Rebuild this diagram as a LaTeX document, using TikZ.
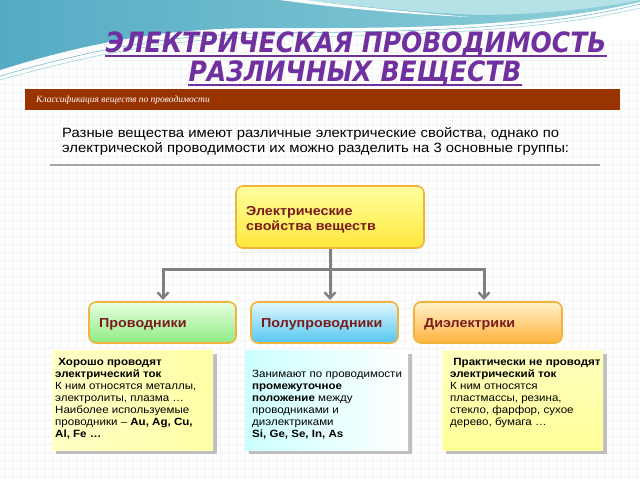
\documentclass[tikz,border=0pt]{standalone}
\usepackage{fontspec}
\setmainfont{Liberation Sans}[FakeStretch=1.1]
\newfontfamily\titlefont{DejaVu Sans}
\newfontfamily\barfont{Liberation Serif}
\usetikzlibrary{arrows.meta}
\definecolor{tealA}{HTML}{55ABC4}
\definecolor{tealB}{HTML}{8ED0DA}
\definecolor{tealC}{HTML}{B5E2E6}
\definecolor{titlec}{HTML}{7030A0}
\definecolor{barc}{HTML}{993300}
\definecolor{boxtxt}{HTML}{7A1B1B}
\definecolor{bord}{HTML}{F0B43C}
\definecolor{conn}{HTML}{808080}
\definecolor{gridc}{HTML}{E6E6E6}
\definecolor{ytop}{HTML}{FFFF9E}
\definecolor{ybot}{HTML}{FFE83C}
\definecolor{gtop}{HTML}{E8FFE0}
\definecolor{gbot}{HTML}{8EEA84}
\definecolor{btop}{HTML}{E2F8FF}
\definecolor{bbot}{HTML}{52C6F0}
\definecolor{otop}{HTML}{FFF2CC}
\definecolor{obot}{HTML}{FFB23C}
\tikzset{
  gridline/.style={gridc, line width=0.5pt, dash pattern=on 1pt off 1pt},
  catbox/.style={draw=bord, line width=1.6pt, rounded corners=7pt, shading=axis},
  boxlabel/.style={font=\fontsize{13}{15}\selectfont\bfseries, text=boxtxt, anchor=west, inner sep=0pt, align=left},
  arr/.style={conn, line width=3pt, -{Straight Barb[length=6pt,width=11pt,line width=2.4pt]}},
  desc/.style={font=\fontsize{10.5}{12}\selectfont, anchor=north west, inner sep=0pt, align=left},
  shadowbox/.style={fill=gray!50},
  titletext/.style={font=\titlefont\fontsize{25}{30}\selectfont\bfseries\itshape, text=titlec, anchor=base, inner sep=0pt},
}
\begin{document}
\begin{tikzpicture}[x=1pt,y=-1pt]
\useasboundingbox (0,0) rectangle (640,480);
\fill[white] (0,0) rectangle (640,480);
% grid
\foreach \i in {4,12,...,636} \draw[gridline] (\i,40) -- (\i,480);
\foreach \j in {44,52,...,476} \draw[gridline] (0,\j) -- (640,\j);
% waves
\shade[left color=tealA, right color=tealB] (0,0) -- (640,0) -- (640,2)
  .. controls (520,30) and (380,28) .. (260,28)
  .. controls (160,28) and (80,45) .. (0,70) -- cycle;
\fill[tealC] (300,0) .. controls (360,6) and (420,13) .. (480,15)
  .. controls (560,14) and (610,6) .. (640,0) -- cycle;
\fill[white] (280,0) .. controls (330,7) and (400,14) .. (470,17)
  .. controls (400,11) and (340,5) .. (305,0) -- cycle;
\draw[tealA!80, line width=0.6pt] (0,76) .. controls (90,50) and (170,34) .. (270,33)
  .. controls (400,32) and (540,30) .. (640,4);
\draw[tealB, line width=0.5pt] (0,80) .. controls (90,55) and (170,38) .. (270,37)
  .. controls (400,36) and (540,32) .. (640,8);
% title
\node[titletext] (t1) at (356,52) {\scalebox{1}[1.12]{ЭЛЕКТРИЧЕСКАЯ ПРОВОДИМОСТЬ}};
\node[titletext] (t2) at (355,81) {\scalebox{1}[1.12]{РАЗЛИЧНЫХ ВЕЩЕСТВ}};
\draw[titlec, line width=1.2pt] ([yshift=-4pt]t1.base west) -- ([yshift=-4pt]t1.base east);
\draw[titlec, line width=1.2pt] ([yshift=-4pt]t2.base west) -- ([yshift=-4pt]t2.base east);
% brown bar
\fill[barc] (25,89) rectangle (620,110);
\node[font=\barfont\fontsize{9.5}{10}\selectfont\itshape, text=white, anchor=west, inner sep=0pt] (bar) at (36,100) {Классификация веществ по проводимости};
% paragraph
\node[font=\fontsize{13.5}{15.2}\selectfont, anchor=north west, inner sep=0pt, align=left] (para) at (62,127)
  {Разные вещества имеют различные электрические свойства, однако по\\электрической проводимости их можно разделить на 3 основные группы:};
\draw[gray!70, line width=1.6pt] (50,165) -- (600,165);
% top box
\draw[catbox, top color=ytop, bottom color=ybot] (236,186) rectangle (424,248);
\node[boxlabel] (toplbl) at (246,220) {Электрические\\свойства веществ};
\coordinate (top) at (330,249);
% category boxes
\draw[catbox, top color=gtop, bottom color=gbot] (89,302) rectangle (236,343);
\node[boxlabel] (c1) at (99,324) {Проводники};
\draw[catbox, top color=btop, bottom color=bbot] (251,302) rectangle (398,343);
\node[boxlabel] (c2) at (261,324) {Полупроводники};
\draw[catbox, top color=otop, bottom color=obot] (414,302) rectangle (562,343);
\node[boxlabel] (c3) at (424,324) {Диэлектрики};
\coordinate (a1) at (163,300);
\coordinate (a2) at (330,300);
\coordinate (a3) at (484,300);
\coordinate (hub) at (330,269);
% connectors
\draw[arr] (top) -- (a2);
\draw[arr] (hub) -| (a1);
\draw[arr] (hub) -| (a3);
% description boxes
\fill[shadowbox] (56,354) rectangle (217,454);
\shade[left color=yellow!22, right color=yellow!35] (52,350) rectangle (213,450);
\node[desc] (d1) at (55,358) {\textbf{ Хорошо проводят}\\\textbf{электрический ток}\\ К ним относятся металлы,\\электролиты, плазма …\\Наиболее используемые\\проводники – \textbf{Au, Ag, Cu,}\\\textbf{Al, Fe …}};
\fill[shadowbox] (249,354) rectangle (412,454);
\shade[left color=cyan!20, right color=white] (245,350) rectangle (408,450);
\node[desc] (d2) at (252,370) {Занимают по проводимости\\\textbf{промежуточное}\\\textbf{положение} между\\проводниками и\\диэлектриками\\\textbf{Si, Ge, Se, In, As}};
\fill[shadowbox] (446,354) rectangle (607,454);
\shade[top color=yellow!25, bottom color=yellow!40] (442,350) rectangle (603,450);
\node[desc] (d3) at (450,358) {\textbf{ Практически не проводят}\\\textbf{электрический ток}\\ К ним относятся\\пластмассы, резина,\\стекло, фарфор, сухое\\дерево, бумага …};
\end{tikzpicture}
\end{document}
